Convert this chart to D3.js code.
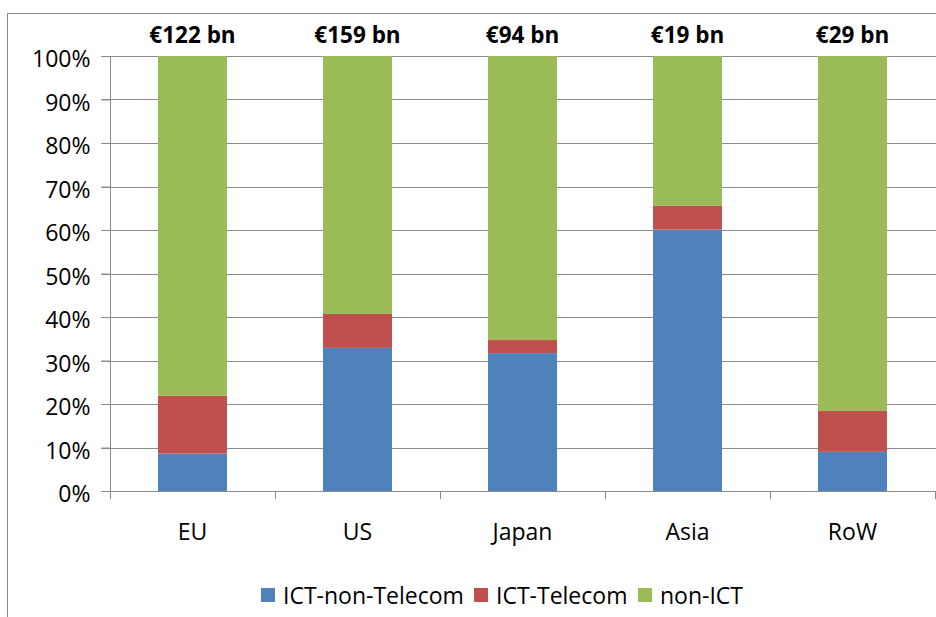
<!DOCTYPE html>
<html><head><meta charset="utf-8">
<script src="https://cdn.jsdelivr.net/npm/d3@7"></script>
<style>body{margin:0;background:#fff}svg{display:block}text{font-family:"Open Sans",sans-serif}</style>
</head><body>
<script>
const categories = ["EU","US","Japan","Asia","RoW"];
const totals = ["€122 bn","€159 bn","€94 bn","€19 bn","€29 bn"];
const ictNonTelecom = [8.6, 32.9, 31.7, 60.1, 9.0];
const ictTelecom = [13.3, 7.8, 3.0, 5.5, 9.4];
const nonICT = [78.1, 59.3, 65.3, 34.4, 81.6];
const seriesNames = ["ICT-non-Telecom","ICT-Telecom","non-ICT"];
const colors = ["#4f81bd","#c0504d","#9bbb59"];
const yTicks = [0,10,20,30,40,50,60,70,80,90,100];

const W=936,H=617;
const FONT="'Open Sans',sans-serif";
const svg=d3.select("body").append("svg").attr("width",W).attr("height",H);
svg.append("rect").attr("x",7.5).attr("y",13.5).attr("width",940).attr("height",620)
  .attr("fill","#fff").attr("stroke","#888").attr("stroke-width",1);

const x=d3.scaleBand().domain(categories).range([110,935]).paddingInner(0.582).paddingOuter(0.291);
const xb=d3.scaleBand().domain(categories).range([110,935]);
const y=d3.scaleLinear().domain([0,100]).range([491,56]);

// gridlines
svg.append("g").selectAll("line").data(yTicks).join("line")
  .attr("x1",101).attr("x2",936).attr("y1",d=>Math.round(y(d))+0.5).attr("y2",d=>Math.round(y(d))+0.5)
  .attr("stroke","#8c8c8c").attr("stroke-width",1);

// stacked bars
const rows=categories.map((c,i)=>({cat:c,"ICT-non-Telecom":ictNonTelecom[i],"ICT-Telecom":ictTelecom[i],"non-ICT":nonICT[i]}));
const stack=d3.stack().keys(seriesNames)(rows);
svg.append("g").selectAll("g").data(stack).join("g").attr("fill",(d,i)=>colors[i])
  .selectAll("rect").data(d=>d).join("rect")
  .attr("x",d=>x(d.data.cat)).attr("width",x.bandwidth())
  .attr("y",d=>y(d[1])).attr("height",d=>y(d[0])-y(d[1]));

// y axis
const yAxis=d3.axisLeft(y).tickValues(yTicks).tickFormat(d=>d+"%").tickSize(9).tickPadding(11);
const gy=svg.append("g").attr("transform","translate(110.5,0)").call(yAxis);
gy.select(".domain").attr("stroke","#8c8c8c").attr("d","M0,491V56");
gy.selectAll(".tick line").attr("stroke","#8c8c8c");
gy.selectAll("text").attr("font-size",23).attr("fill","#000").attr("font-family",FONT).attr("dy","0.46em");

// x axis
const gx=svg.append("g").attr("transform","translate(0,491.5)").call(d3.axisBottom(xb).tickSize(0).tickPadding(32));
gx.select(".domain").attr("stroke","#8c8c8c").attr("d","M110,0H936");
gx.selectAll("text").attr("font-size",23).attr("fill","#000").attr("font-family",FONT);
svg.append("g").selectAll("line").data(d3.range(categories.length+1)).join("line")
  .attr("x1",i=>Math.round(110+i*xb.step())+0.5).attr("x2",i=>Math.round(110+i*xb.step())+0.5)
  .attr("y1",491).attr("y2",499).attr("stroke","#8c8c8c");

// totals
svg.append("g").selectAll("text").data(categories).join("text")
  .attr("x",d=>x(d)+x.bandwidth()/2).attr("y",43).attr("text-anchor","middle")
  .attr("font-size",22.5).attr("font-weight","bold").text((d,i)=>totals[i]);

// legend
const legendX=[261,474,638];
const lg=svg.append("g").selectAll("g").data(seriesNames).join("g")
  .attr("transform",(d,i)=>`translate(${legendX[i]},588)`);
lg.append("rect").attr("width",14).attr("height",14).attr("fill",(d,i)=>colors[i]);
lg.append("text").attr("x",22).attr("y",15.5).attr("font-size",23).text(d=>d);
</script>
</body></html>
